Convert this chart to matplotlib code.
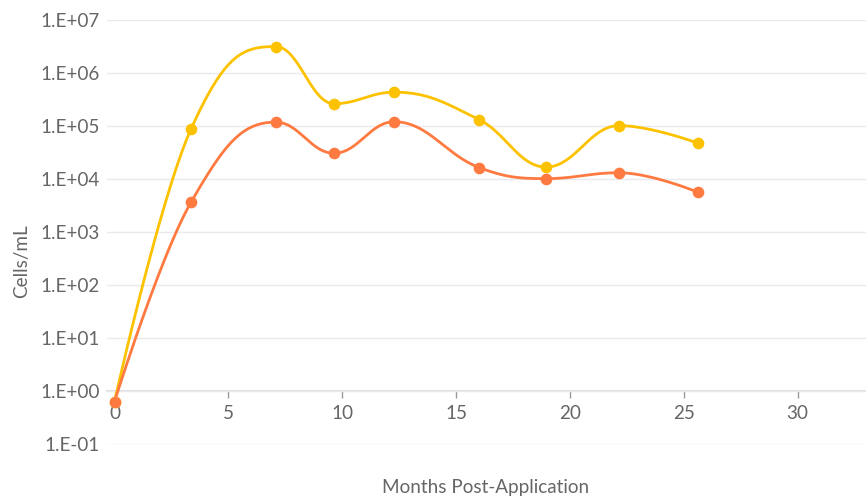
"""Cells/mL over months post-application, two series, log y axis with spline curves."""
import numpy as np
import matplotlib

matplotlib.use("Agg")
import matplotlib.pyplot as plt
from matplotlib.ticker import FixedLocator, FuncFormatter

plt.rcParams["font.family"] = ["Lato", "DejaVu Sans"]

# data
months = [0.0, 3.36, 7.08, 9.64, 12.28, 16.02, 18.95, 22.15, 25.62]
yellow_cells = [0.64, 8.9e4, 3.2e6, 2.67e5, 4.4e5, 1.33e5, 1.7e4, 1.03e5, 4.8e4]
orange_cells = [0.64, 3.7e3, 1.2e5, 3.1e4, 1.22e5, 1.66e4, 1.03e4, 1.33e4, 5.7e3]
x_ticks = [0, 5, 10, 15, 20, 25, 30]
y_ticks = [1e-1, 1e0, 1e1, 1e2, 1e3, 1e4, 1e5, 1e6, 1e7]

YELLOW = "#fcc200"
ORANGE = "#ff7a40"
TEXT = "#666666"
GRID = "#e9e9ef"
FS = 13.6


def spline_path(xs, ys, smoothing=1.5, n=40):
    """Highcharts-style spline in (x, log10 y) space; returns sampled curve."""
    xs = np.asarray(xs, float)
    ys = np.log10(np.asarray(ys, float))
    m = len(xs)
    left = [(xs[i], ys[i]) for i in range(m)]
    right = [(xs[i], ys[i]) for i in range(m)]
    denom = smoothing + 1
    for i in range(1, m - 1):
        px, py = xs[i], ys[i]
        lx, ly = xs[i - 1], ys[i - 1]
        nx, ny = xs[i + 1], ys[i + 1]
        lcx = (smoothing * px + lx) / denom
        lcy = (smoothing * py + ly) / denom
        rcx = (smoothing * px + nx) / denom
        rcy = (smoothing * py + ny) / denom
        if rcx != lcx:
            corr = (rcy - lcy) * (rcx - px) / (rcx - lcx) + py - rcy
            lcy += corr
            rcy += corr
        if lcy > ly and lcy > py:
            lcy = max(ly, py)
            rcy = 2 * py - lcy
        elif lcy < ly and lcy < py:
            lcy = min(ly, py)
            rcy = 2 * py - lcy
        if rcy > ny and rcy > py:
            rcy = max(ny, py)
            lcy = 2 * py - rcy
        elif rcy < ny and rcy < py:
            rcy = min(ny, py)
            lcy = 2 * py - rcy
        left[i] = (lcx, lcy)
        right[i] = (rcx, rcy)
    t = np.linspace(0, 1, n)
    out_x, out_y = [], []
    for i in range(m - 1):
        p0 = np.array([xs[i], ys[i]])
        p1 = np.array(right[i])
        p2 = np.array(left[i + 1])
        p3 = np.array([xs[i + 1], ys[i + 1]])
        b = ((1 - t) ** 3)[:, None] * p0 + (3 * (1 - t) ** 2 * t)[:, None] * p1 \
            + (3 * (1 - t) * t ** 2)[:, None] * p2 + (t ** 3)[:, None] * p3
        out_x.extend(b[:, 0])
        out_y.extend(b[:, 1])
    return np.array(out_x), 10 ** np.array(out_y)


fig = plt.figure(figsize=(8.66, 5.0), dpi=100)
ax = fig.add_axes([107 / 866, 1 - 444.3 / 500, 1 - 107 / 866, (444.3 - 20.3) / 500])

ax.set_yscale("log")
ax.set_xlim(-0.33, 33.0)
ax.set_ylim(1e-1, 1e7)

for vals, col in [(yellow_cells, YELLOW), (orange_cells, ORANGE)]:
    sx, sy = spline_path(months, vals)
    ax.plot(sx, sy, color=col, lw=2, zorder=3, solid_capstyle="round")
    ax.plot(months, vals, "o", color=col, ms=8.4, mec="none", zorder=4, clip_on=False)

# grid and axes
ax.yaxis.set_major_locator(FixedLocator(y_ticks))
ax.yaxis.set_minor_locator(FixedLocator([]))
ax.yaxis.set_major_formatter(FuncFormatter(lambda v, _: f"1.E{int(round(np.log10(v))):+03d}"))
ax.grid(axis="y", color=GRID, lw=1, zorder=0)
ax.tick_params(axis="y", length=0, pad=5, labelsize=FS, labelcolor=TEXT)
for s in ["top", "right", "left"]:
    ax.spines[s].set_visible(False)
ax.spines["bottom"].set_position(("data", 1.0))
ax.spines["bottom"].set_color("#d8d8d8")
ax.spines["bottom"].set_linewidth(1.2)
ax.spines["bottom"].set_zorder(1)
ax.set_xticks(x_ticks)
ax.tick_params(axis="x", length=5, width=1, color="#999999", direction="out",
               pad=5, labelsize=FS, labelcolor=TEXT)

fig.text(486 / 866, 1 - 488 / 500, "Months Post-Application", ha="center", va="center",
         fontsize=FS, color=TEXT)
fig.text(22 / 866, 1 - 261 / 500, "Cells/mL", ha="center", va="center", rotation=90,
         fontsize=FS, color=TEXT)

fig.savefig("out.png", dpi=100)
